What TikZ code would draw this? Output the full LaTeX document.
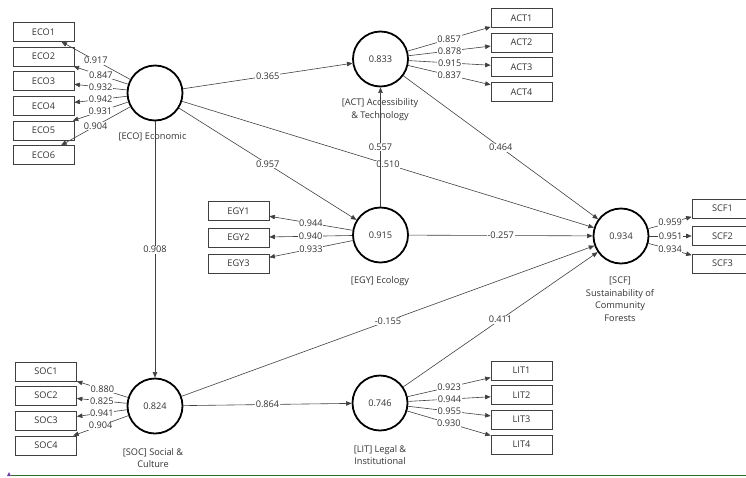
\documentclass[tikz,border=0pt]{standalone}
\usepackage{fontspec}
\setmainfont{Open Sans}
\usetikzlibrary{arrows.meta}
\definecolor{textc}{HTML}{333333}
\definecolor{linec}{HTML}{404040}
\definecolor{bottomgreen}{HTML}{2E6B2E}
\definecolor{markpurple}{HTML}{6A3FA0}
\begin{document}
\begin{tikzpicture}[x=1pt,y=-1pt,
  every node/.style={font=\fontsize{9.2}{12.5}\selectfont, text=textc},
  lat/.style={circle, draw=black, line width=1.8pt, minimum size=55pt, inner sep=0pt},
  ind/.style={rectangle, draw=linec, line width=0.7pt, minimum width=61pt, minimum height=19pt, inner sep=0pt},
  conn/.style={draw=linec, line width=0.6pt, -{Triangle[length=5.5pt,width=4.5pt]}},
  lbl/.style={fill=white, inner sep=0.6pt},
  latname/.style={align=center, inner sep=0pt}
]
\useasboundingbox (0,0) rectangle (746,477);

% latent variables
\node[lat] (ECO) at (155,93) {};
\node[lat] (ACT) at (380.5,59) {0.833};
\node[lat] (EGY) at (380.5,235) {0.915};
\node[lat] (SCF) at (621,236) {0.934};
\node[lat] (SOC) at (155,406) {0.824};
\node[lat] (LIT) at (380,403) {0.746};

% latent names
\node[latname] (ECOn) at (152.5,137) {[ECO] Economic};
\node[latname] (ACTn) at (380,109.5) {[ACT] Accessibility\\\& Technology};
\node[latname] (EGYn) at (380,281) {[EGY] Ecology};
\node[latname] (SCFn) at (620,299) {[SCF]\\Sustainability of\\Community\\Forests};
\node[latname] (SOCn) at (153,458) {[SOC] Social \&\\Culture};
\node[latname] (LITn) at (380,455) {[LIT] Legal \&\\Institutional};

% indicators
\node[ind] (ECO1) at (43.5,32) {ECO1};
\node[ind] (ECO2) at (43.5,56.5) {ECO2};
\node[ind] (ECO3) at (43.5,81) {ECO3};
\node[ind] (ECO4) at (43.5,106) {ECO4};
\node[ind] (ECO5) at (43.5,130.5) {ECO5};
\node[ind] (ECO6) at (43.5,155) {ECO6};

\node[ind] (ACT1) at (521.5,18) {ACT1};
\node[ind] (ACT2) at (521.5,42.5) {ACT2};
\node[ind] (ACT3) at (521.5,67) {ACT3};
\node[ind] (ACT4) at (521.5,92) {ACT4};

\node[ind] (EGY1) at (238.5,211) {EGY1};
\node[ind] (EGY2) at (238.5,237.5) {EGY2};
\node[ind] (EGY3) at (238.5,263.5) {EGY3};

\node[ind] (SCF1) at (722.5,208.5) {SCF1};
\node[ind] (SCF2) at (722.5,236) {SCF2};
\node[ind] (SCF3) at (722.5,263.5) {SCF3};

\node[ind] (SOC1) at (46,371.5) {SOC1};
\node[ind] (SOC2) at (46,395.5) {SOC2};
\node[ind] (SOC3) at (46,420.5) {SOC3};
\node[ind] (SOC4) at (46,445.5) {SOC4};

\node[ind] (LIT1) at (521.5,370.5) {LIT1};
\node[ind] (LIT2) at (521.5,395) {LIT2};
\node[ind] (LIT3) at (521.5,419.5) {LIT3};
\node[ind] (LIT4) at (521.5,444.5) {LIT4};

% outer loadings
\draw[conn] (ECO) -- node[lbl]{0.917} (ECO1);
\draw[conn] (ECO) -- node[lbl]{0.847} (ECO2);
\draw[conn] (ECO) -- node[lbl]{0.932} (ECO3);
\draw[conn] (ECO) -- node[lbl]{0.942} (ECO4);
\draw[conn] (ECO) -- node[lbl]{0.931} (ECO5);
\draw[conn] (ECO) -- node[lbl]{0.904} (ECO6);

\draw[conn] (ACT) -- node[lbl]{0.857} (ACT1);
\draw[conn] (ACT) -- node[lbl]{0.878} (ACT2);
\draw[conn] (ACT) -- node[lbl]{0.915} (ACT3);
\draw[conn] (ACT) -- node[lbl]{0.837} (ACT4);

\draw[conn] (EGY) -- node[lbl]{0.944} (EGY1);
\draw[conn] (EGY) -- node[lbl]{0.940} (EGY2);
\draw[conn] (EGY) -- node[lbl]{0.933} (EGY3);

\draw[conn] (SCF) -- node[lbl]{0.959} (SCF1);
\draw[conn] (SCF) -- node[lbl]{0.951} (SCF2);
\draw[conn] (SCF) -- node[lbl]{0.934} (SCF3);

\draw[conn] (SOC) -- node[lbl]{0.880} (SOC1);
\draw[conn] (SOC) -- node[lbl]{0.825} (SOC2);
\draw[conn] (SOC) -- node[lbl]{0.941} (SOC3);
\draw[conn] (SOC) -- node[lbl]{0.904} (SOC4);

\draw[conn] (LIT) -- node[lbl]{0.923} (LIT1);
\draw[conn] (LIT) -- node[lbl]{0.944} (LIT2);
\draw[conn] (LIT) -- node[lbl]{0.955} (LIT3);
\draw[conn] (LIT) -- node[lbl]{0.930} (LIT4);

% structural paths
\draw[conn] (ECO) -- node[lbl]{0.365} (ACT);
\draw[conn] (ECO) -- node[lbl]{0.957} (EGY);
\draw[conn] (ECO) -- node[lbl]{0.510} (SCF);
\draw[conn] (ECO) -- node[lbl]{0.908} (SOC);
\draw[conn] (EGY) -- node[lbl]{0.557} (ACT);
\draw[conn] (ACT) -- node[lbl]{0.464} (SCF);
\draw[conn] (EGY) -- node[lbl]{-0.257} (SCF);
\draw[conn] (SOC) -- node[lbl]{-0.155} (SCF);
\draw[conn] (LIT) -- node[lbl]{0.411} (SCF);
\draw[conn] (SOC) -- node[lbl]{0.864} (LIT);

% bottom rule
\coordinate (gL) at (11,475.5);
\coordinate (gR) at (746,475.5);
\draw[bottomgreen, line width=0.9pt] (gL) -- (gR);
\fill[markpurple] (7,476) -- (11,476) -- (9,472) -- cycle;
\end{tikzpicture}
\end{document}
